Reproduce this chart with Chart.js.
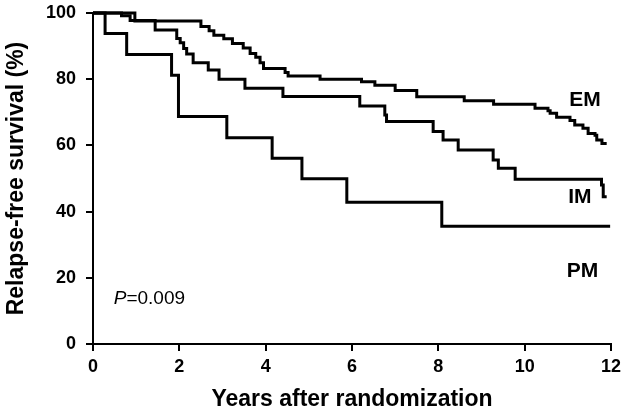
<!DOCTYPE html>
<html>
<head>
<meta charset="utf-8">
<script src="https://cdn.jsdelivr.net/npm/chart.js@4/dist/chart.umd.min.js"></script>
<style>
  html, body { margin: 0; padding: 0; background: #fff; }
  #wrap { width: 622px; height: 414px; }
</style>
</head>
<body>
<div id="wrap"><canvas id="rfsChart" width="622" height="414"></canvas></div>
<script>
// tick labels
const xTicks = [0, 2, 4, 6, 8, 10, 12];
const yTicks = [0, 20, 40, 60, 80, 100];

// Kaplan-Meier steps (years, % relapse-free)
const emYears = [0, 0.97, 2.50, 2.69, 2.80, 3.03, 3.23, 3.48, 3.64, 3.77, 3.87, 3.95, 4.45, 4.52, 5.26, 6.22, 6.53, 7.00, 7.50, 8.60, 9.28, 10.24, 10.54, 10.59, 10.74, 11.05, 11.16, 11.35, 11.47, 11.63, 11.67, 11.79, 11.90];
const emSurvival = [100, 97.6, 95.9, 94.6, 93.3, 92.2, 90.8, 89.4, 87.8, 86.6, 85.0, 83.2, 82.0, 81.0, 80.0, 79.2, 78.2, 76.6, 74.7, 73.5, 72.4, 71.2, 70.5, 69.7, 68.5, 67.5, 66.2, 65.2, 63.6, 63.1, 61.6, 60.6, 60.6];

const imYears = [0, 0.66, 0.86, 1.44, 1.94, 2.02, 2.10, 2.17, 2.32, 2.67, 2.92, 3.52, 4.40, 6.18, 6.76, 6.80, 7.88, 8.11, 8.46, 9.27, 9.39, 9.78, 11.78, 11.82, 11.90];
const imSurvival = [100, 99.2, 97.7, 94.9, 92.3, 91.0, 89.3, 87.6, 85.0, 82.8, 80.0, 77.3, 74.8, 71.9, 69.2, 67.2, 64.2, 61.6, 58.6, 55.6, 53.1, 49.8, 48.0, 44.5, 44.5];

const pmYears = [0, 0.28, 0.78, 1.82, 1.98, 3.10, 4.15, 4.84, 5.88, 8.08, 11.98];
const pmSurvival = [100, 93.8, 87.5, 81.2, 68.7, 62.3, 56.1, 49.9, 42.8, 35.6, 35.6];

const groupNames = ['EM', 'IM', 'PM'];
const pValueText = '=0.009';

const FONT = '"Liberation Sans", Arial, sans-serif';

function toPoints(xs, ys) {
  return xs.map((x, i) => ({ x: x, y: ys[i] }));
}

function kmDataset(label, xs, ys) {
  return {
    label: label,
    data: toPoints(xs, ys),
    stepped: 'before',
    borderColor: '#000',
    borderWidth: 3,
    pointRadius: 0,
    fill: false,
    clip: 4
  };
}

// group names and the p value, placed in data units
const curveLabels = {
  id: 'curveLabels',
  afterDatasetsDraw(chart) {
    const { ctx, scales: { x, y } } = chart;
    const spots = [[11.40, 73.7], [11.28, 44.3], [11.34, 22.1]];
    ctx.save();
    ctx.fillStyle = '#000';
    ctx.textBaseline = 'middle';
    ctx.textAlign = 'center';
    ctx.font = 'bold 21px ' + FONT;
    groupNames.forEach((name, i) => {
      ctx.fillText(name, x.getPixelForValue(spots[i][0]), y.getPixelForValue(spots[i][1]));
    });
    ctx.textAlign = 'left';
    const px = x.getPixelForValue(0.48);
    const py = y.getPixelForValue(13.6);
    ctx.font = 'italic 19px ' + FONT;
    ctx.fillText('P', px, py);
    const w = ctx.measureText('P').width;
    ctx.font = '19px ' + FONT;
    ctx.fillText(pValueText, px + w, py);
    ctx.restore();
  }
};

const axisLine = { color: '#000', width: 2 };
const tickMarks = { drawOnChartArea: false, drawTicks: true, tickLength: 7, color: '#000', lineWidth: 2 };

new Chart(document.getElementById('rfsChart'), {
  type: 'line',
  data: {
    datasets: [
      kmDataset('EM', emYears, emSurvival),
      kmDataset('IM', imYears, imSurvival),
      kmDataset('PM', pmYears, pmSurvival)
    ]
  },
  options: {
    responsive: false,
    animation: false,
    devicePixelRatio: 1,
    layout: { padding: { top: 13, right: 11, left: 0, bottom: 0 } },
    plugins: { legend: { display: false }, tooltip: { enabled: false } },
    scales: {
      x: {
        type: 'linear',
        min: 0,
        max: 12,
        border: axisLine,
        grid: tickMarks,
        afterBuildTicks: s => { s.ticks = xTicks.map(v => ({ value: v })); },
        afterFit: s => { s.height = 70; s.paddingLeft = 0; s.paddingRight = 0; },
        ticks: { color: '#000', padding: 5, maxRotation: 0, font: { family: FONT, size: 18, weight: 'bold' } },
        title: {
          display: true,
          text: 'Years after randomization',
          color: '#000',
          padding: { top: 0, bottom: 1 },
          font: { family: FONT, size: 23, weight: 'bold' }
        }
      },
      y: {
        type: 'linear',
        min: 0,
        max: 100,
        border: axisLine,
        grid: tickMarks,
        afterBuildTicks: s => { s.ticks = yTicks.map(v => ({ value: v })); },
        afterFit: s => { s.width = 93; s.paddingTop = 0; s.paddingBottom = 0; },
        ticks: { color: '#000', padding: 10, font: { family: FONT, size: 18, weight: 'bold' } },
        title: {
          display: true,
          text: 'Relapse-free survival (%)',
          color: '#000',
          padding: { top: 3, bottom: 0 },
          font: { family: FONT, size: 23, weight: 'bold' }
        }
      }
    }
  },
  plugins: [curveLabels]
});
</script>
</body>
</html>
